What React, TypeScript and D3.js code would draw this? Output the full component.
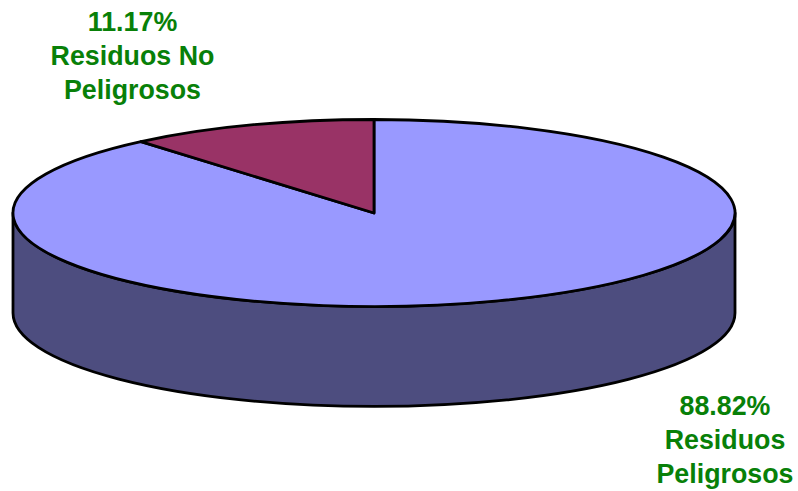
import React from "react";
import * as d3 from "d3";

const categories = ["Residuos Peligrosos", "Residuos No Peligrosos"];
const shares = [88.82, 11.17];
const percentLabels = ["88.82%", "11.17%"];
const topColors = ["#9999ff", "#993366"];
const sideColors = ["#4d4d7f", "#4d1a33"];

const WIDTH = 798;
const HEIGHT = 491;
const cx = 374;
const cy = 213;
const rx = 361;
const ry = 93.5;
const depth = 100;
const outline = 2.8;

// Slice angles run clockwise from twelve o'clock, with the small slice ending there.
const pie = d3
  .pie<number>()
  .sort(null)
  .value((d) => d);
const arcs = pie(shares);

// Projects an angle on the unit circle onto the tilted ellipse.
const ex = (a: number) => cx + rx * Math.sin(a);
const ey = (a: number) => cy - ry * Math.cos(a);

function topPath(start: number, end: number) {
  const large = end - start > Math.PI ? 1 : 0;
  return `M${cx},${cy}L${ex(start)},${ey(start)}A${rx},${ry} 0 ${large} 1 ${ex(end)},${ey(end)}Z`;
}

// The outer wall of the front half of the disc.
function wallPath() {
  return `M${cx - rx},${cy}A${rx},${ry} 0 0 0 ${cx + rx},${cy}L${cx + rx},${cy + depth}A${rx},${ry} 0 0 1 ${cx - rx},${cy + depth}Z`;
}

const labelStyle: React.CSSProperties = {
  fontFamily: "Liberation Sans, Arial, sans-serif",
  fontSize: 26.8,
  fontWeight: 700,
  fill: "#088008",
};

const labelBlocks = [
  { x: 132.5, ys: [31, 65, 99], lines: [percentLabels[1], "Residuos No", "Peligrosos"] },
  { x: 725, ys: [415, 449, 483], lines: [percentLabels[0], "Residuos", "Peligrosos"] },
];

export default function App() {
  return (
    <svg
      width={WIDTH}
      height={HEIGHT}
      viewBox={`0 0 ${WIDTH} ${HEIGHT}`}
      style={{ position: "fixed", left: 0, top: 0, background: "#fff" }}
    >
      <title>{categories.join(" / ")}</title>
      <path d={wallPath()} fill={sideColors[0]} stroke="#000" strokeWidth={outline} strokeLinejoin="round" />
      {arcs.map((a, i) => (
        <path
          key={categories[i]}
          d={topPath(a.startAngle, a.endAngle)}
          fill={topColors[i]}
          stroke="#000"
          strokeWidth={outline}
          strokeLinejoin="round"
        />
      ))}
      {labelBlocks.map((b) => (
        <text key={b.x} textAnchor="middle" style={labelStyle}>
          {b.lines.map((l, i) => (
            <tspan key={l} x={b.x} y={b.ys[i]}>
              {l}
            </tspan>
          ))}
        </text>
      ))}
    </svg>
  );
}
